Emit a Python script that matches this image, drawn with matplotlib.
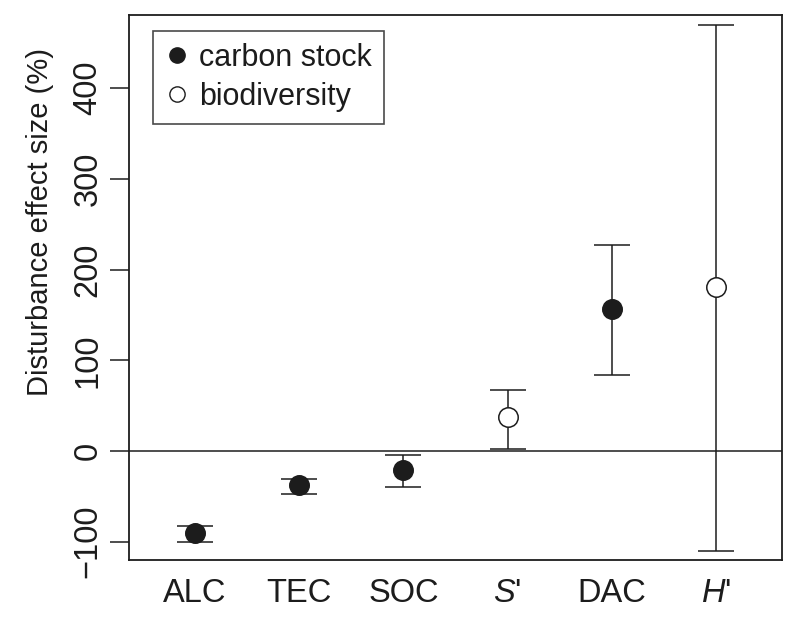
# -------------------- Modules --------------------
import numpy as np
import matplotlib
matplotlib.use("Agg")
from matplotlib import pyplot as plt
from matplotlib.lines import Line2D


# -------------------- Data --------------------
categories = ["ALC", "TEC", "SOC", "S'", "DAC", "H'"]
tick_labels = ["ALC", "TEC", "SOC", "$S$'", "DAC", "$H$'"]
effect = [-90.7, -37.5, -21.0, 37.2, 156.2, 180.6]
lower = [-100.7, -47.0, -40.0, 2.2, 83.8, -109.9]
upper = [-82.3, -30.9, -4.0, 67.3, 227.0, 469.7]
group = ["carbon stock", "carbon stock", "carbon stock",
         "biodiversity", "carbon stock", "biodiversity"]
y_ticks = [-100, 0, 100, 200, 300, 400]

INK = "#1c1c1c"
TICK_SIZE = 23.5
LABEL_SIZE = 21
LEGEND_SIZE = 22


# -------------------- Plot --------------------
def plot_effects() -> None:
    """Point estimates with confidence bars, R base graphics look"""
    plt.rcParams["font.family"] = ["Liberation Sans", "DejaVu Sans"]
    plt.rcParams["mathtext.fontset"] = "custom"
    plt.rcParams["mathtext.rm"] = "Liberation Sans"
    plt.rcParams["mathtext.it"] = "Liberation Sans:italic"

    fig = plt.figure(figsize=(8.0, 6.18), dpi=100)
    ax = fig.add_axes([0.1616, 0.0934, 0.8155, 0.8823])

    x = np.arange(1, len(categories) + 1)
    y = np.array(effect)
    err = np.vstack([y - np.array(lower), np.array(upper) - y])

    ax.axhline(0, color=INK, lw=1.1, zorder=1)
    ax.errorbar(x, y, yerr=err, fmt="none", ecolor=INK, elinewidth=1.1,
                capsize=13, capthick=1.1, zorder=2)

    for xi, yi, g in zip(x, y, group):
        face = INK if g == "carbon stock" else "white"
        ax.plot(xi, yi, "o", ms=14, mfc=face, mec=INK, mew=1.1, zorder=3)

    ax.set_xlim(0.368, 6.632)
    ax.set_ylim(-120.5, 480.7)
    ax.set_xticks(x)
    ax.set_xticklabels(tick_labels, fontsize=TICK_SIZE, color=INK)
    ax.tick_params(axis="x", length=0, pad=13)
    ax.set_yticks(y_ticks)
    ax.set_yticklabels([str(t).replace("-", "\u2212") for t in y_ticks],
                       fontsize=TICK_SIZE, color=INK, rotation=90,
                       va="center")
    ax.tick_params(axis="y", length=13.4, width=1.1, color=INK, pad=5)
    for sp in ax.spines.values():
        sp.set_color(INK)
        sp.set_linewidth(1.3)

    fig.text(40 / 800, 1 - 222 / 618, "Disturbance effect size (%)",
             rotation=90, ha="center", va="center",
             fontsize=LABEL_SIZE, color=INK)

    handles = [
        Line2D([], [], ls="none", marker="o", ms=11, mfc=INK, mec=INK),
        Line2D([], [], ls="none", marker="o", ms=11, mfc="white", mec=INK),
    ]
    leg = ax.legend(handles, ["carbon stock", "biodiversity"],
                    loc="upper left", bbox_to_anchor=(0.036, 0.971),
                    borderaxespad=0, fontsize=LEGEND_SIZE, frameon=True,
                    fancybox=False, edgecolor=INK, handlelength=0.8,
                    handletextpad=0.3, borderpad=0.4, labelspacing=0.28)
    leg.get_frame().set_linewidth(1.2)
    for t in leg.get_texts():
        t.set_color(INK)

    fig.savefig("out.png", dpi=100)


# -------------------- Main -----------------------
def main():
    plot_effects()


if __name__ == "__main__":
    main()
